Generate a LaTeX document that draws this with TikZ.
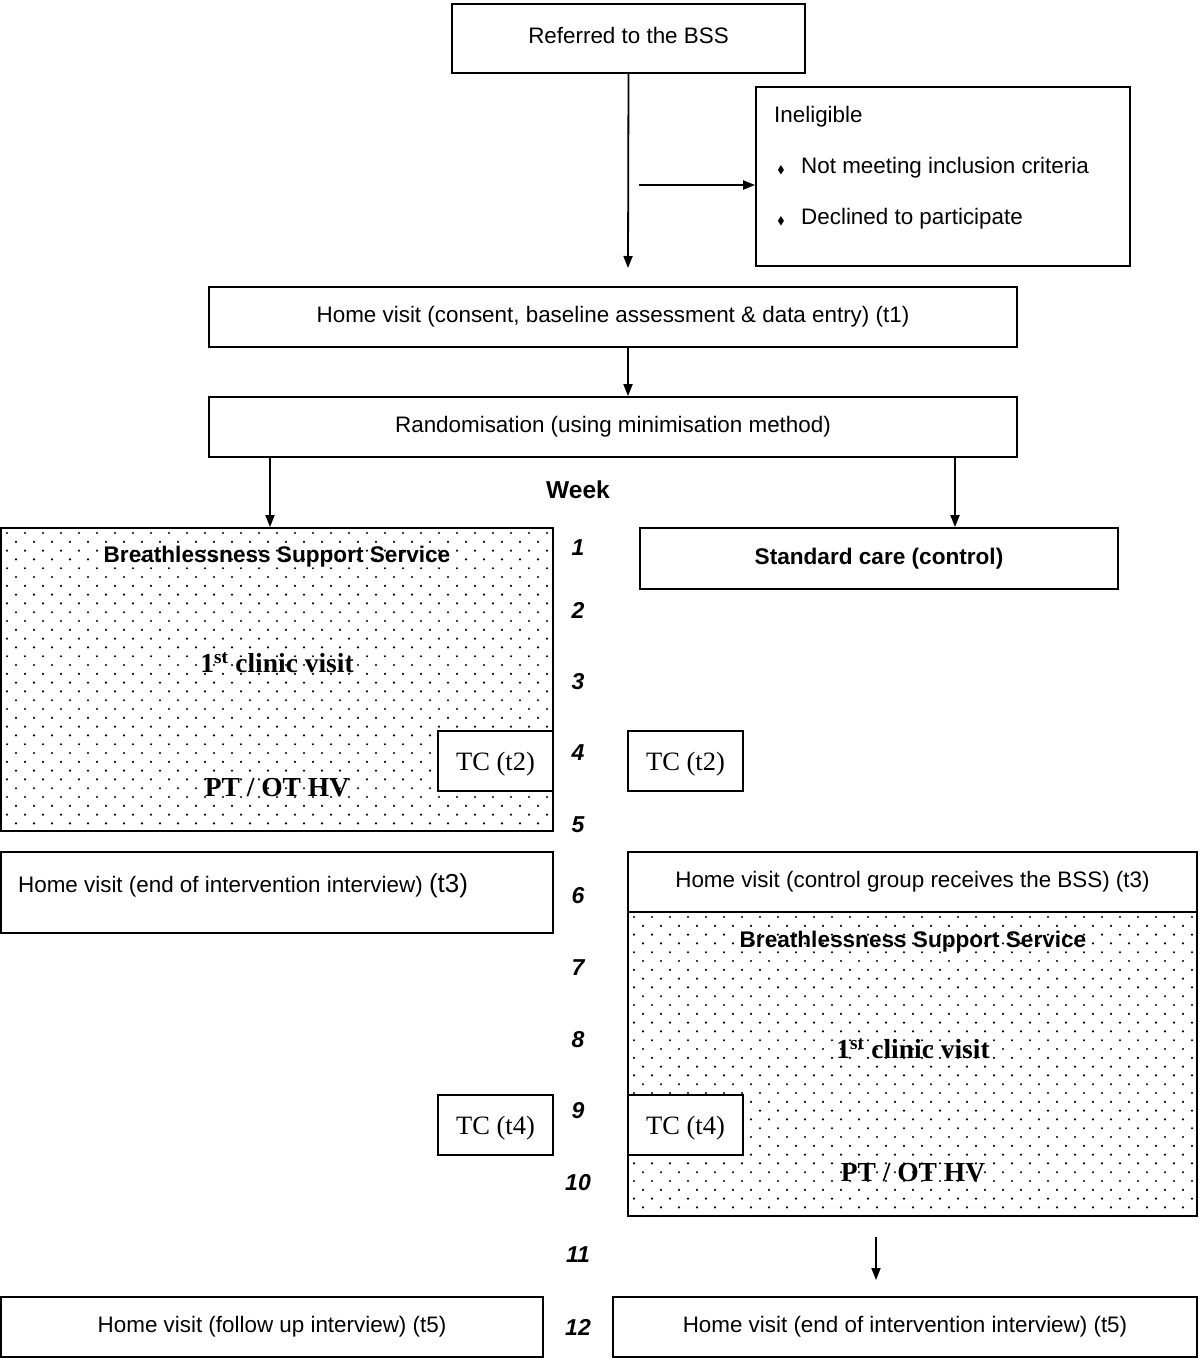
\documentclass[tikz,border=0pt]{standalone}
\usepackage{fontspec}
\usepackage{amssymb}
\setmainfont{Liberation Sans}
\newfontfamily\tms{Liberation Serif}
\usetikzlibrary{arrows.meta}
\newcommand\dotarea[4]{%
 \begin{scope}
 \clip (#1,#2) rectangle (#3,#4);
 \foreach \i in {0,...,36} {
   \pgfmathsetmacro\yy{#2+5+8.8*\i}
   \pgfmathsetmacro\xo{#1+6+9*mod(\i,2)}
   \foreach \j in {0,...,33} { \fill (\xo+18*\j,\yy) circle (1.2pt); }
 }
 \end{scope}}
\begin{document}
\begin{tikzpicture}[x=1pt,y=-1pt,
  box/.style={draw, line width=1.8pt, inner sep=0pt, align=center,
    font=\fontsize{22.4}{26}\selectfont},
  tcbox/.style={box, fill=white, minimum width=115, minimum height=60,
    font=\tms\fontsize{26.5}{30}\selectfont},
  tctext/.style={inner sep=0pt, font=\tms\fontsize{26.5}{30}\selectfont},
  bold/.style={font=\fontsize{22.6}{26}\selectfont\bfseries},
  serifbold/.style={font=\tms\fontsize{27.5}{30}\selectfont\bfseries},
  wk/.style={font=\fontsize{23}{26}\selectfont\bfseries\itshape},
  plain/.style={font=\fontsize{22.4}{26}\selectfont, inner sep=0pt},
  arr/.style={line width=1.8pt, -{Triangle[length=12pt,width=9pt]}}]
\useasboundingbox (0,0) rectangle (1200,1358);
\fill[white] (0,0) rectangle (1200,1358);

% dotted areas
\dotarea{1}{528}{553}{831}
\dotarea{628}{912}{1197}{1216}

% boxes
\node[box, minimum width=353, minimum height=69] (ref) at (628.5,38.5) {};
\node[plain] (refT) at (628.5,35) {Referred to the BSS};
\node[box, minimum width=374, minimum height=179] (inel) at (943,176.5) {};
\node[box, minimum width=808, minimum height=60] (hv1) at (613,317) {Home visit (consent, baseline assessment \& data entry) (t1)};
\node[box, minimum width=808, minimum height=60] (rand) at (613,427) {Randomisation (using minimisation method)};
\node[box, minimum width=552, minimum height=303] (bssL) at (277,679.5) {};
\node[box, minimum width=478, minimum height=61, bold] (std) at (879,558.5) {Standard care (control)};
\node[tcbox] (tc2L) at (495.5,761) {};
\node[tcbox] (tc2R) at (685.5,761) {};
\node[tctext] (tc2Lt) at (495.5,764) {TC (t2)};
\node[tctext] (tc2Rt) at (685.5,764) {TC (t2)};
\node[box, minimum width=552, minimum height=81] (hv3L) at (277,892.5) {};
\node[box, minimum width=569, minimum height=60] (hv3R) at (912.5,882) {Home visit (control group receives the BSS) (t3)};
\node[box, minimum width=569, minimum height=304] (bssR) at (912.5,1064) {};
\node[tcbox] (tc4L) at (495.5,1125) {};
\node[tcbox] (tc4R) at (685.5,1125) {};
\node[tctext] (tc4Lt) at (495.5,1128) {TC (t4)};
\node[tctext] (tc4Rt) at (685.5,1128) {TC (t4)};
\node[box, minimum width=542, minimum height=60] (hv5L) at (272,1327) {Home visit (follow up interview) (t5)};
\node[box, minimum width=584, minimum height=60] (hv5R) at (905,1327) {Home visit (end of intervention interview) (t5)};

% texts inside boxes
\node[plain, anchor=west] (inelT) at (774,117) {Ineligible};
\node[inner sep=0pt, font=\fontsize{11}{11}\selectfont] (b1) at (781,170) {$\blacklozenge$};
\node[plain, anchor=west] (inel1) at (801,168) {Not meeting inclusion criteria};
\node[inner sep=0pt, font=\fontsize{11}{11}\selectfont] (b2) at (781,221) {$\blacklozenge$};
\node[plain, anchor=west] (inel2) at (801,219) {Declined to participate};

\node[bold, inner sep=0pt] (bssLt) at (277,557) {Breathlessness Support Service};
\node[serifbold, inner sep=0pt] (clinL) at (277,663) {1\textsuperscript{st} clinic visit};
\node[serifbold, inner sep=0pt] (ptL) at (277,788) {PT / OT HV};
\node[plain, anchor=west] (hv3Lt) at (18,886) {Home visit (end of intervention interview) {\fontsize{26}{30}\selectfont(t3)}};
\node[bold, inner sep=0pt] (bssRt) at (913,942) {Breathlessness Support Service};
\node[serifbold, inner sep=0pt] (clinR) at (913,1049) {1\textsuperscript{st} clinic visit};
\node[serifbold, inner sep=0pt] (ptR) at (913,1173) {PT / OT HV};

% week column
\node[font=\fontsize{24.5}{28}\selectfont\bfseries, inner sep=0pt] (week) at (578,490) {Week};
\foreach \n/\y in {1/548,2/610,3/682,4/753,5/825,6/896,7/968,8/1040,9/1111,10/1183,11/1255,12/1327}
  \node[wk, inner sep=0pt] (w\n) at (578,\y) {\n};

% connectors
\coordinate (a1end) at (628,268);
\coordinate (ineS) at (639,185);
\coordinate (xL) at (270,0);
\coordinate (xR) at (955,0);
\coordinate (xM) at (628,0);
\coordinate (finS) at (876,1237);
\coordinate (finE) at (876,1280);
\draw[arr] (ref.south) -- (a1end);
\draw[arr] (ineS) -- (inel.west |- ineS);
\draw[arr] (hv1.south -| xM) -- (rand.north -| xM);
\draw[arr] (rand.south -| xL) -- (bssL.north -| xL);
\draw[arr] (rand.south -| xR) -- (std.north -| xR);
\draw[arr] (finS) -- (finE);
\end{tikzpicture}
\end{document}
